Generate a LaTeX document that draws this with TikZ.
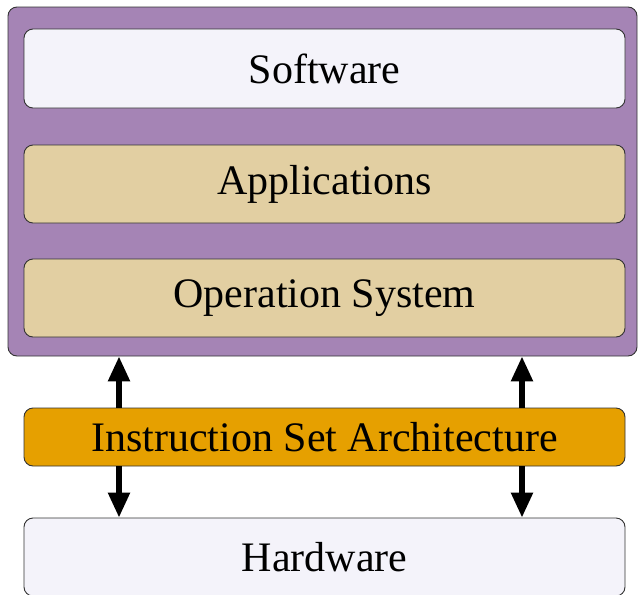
\documentclass[tikz,border=0pt]{standalone}
\usepackage{fontspec}
\setmainfont{Liberation Serif}
\usetikzlibrary{arrows.meta}
\definecolor{swpurple}{HTML}{A584B5}
\definecolor{swwhite}{HTML}{F4F3FA}
\definecolor{swtan}{HTML}{E2CFA2}
\definecolor{isaorange}{HTML}{E6A000}
\definecolor{edgegray}{HTML}{333333}
\tikzset{
	layer/.style={draw=edgegray, line width=0.9pt, rounded corners=9pt, minimum width=601pt, inner sep=0pt, font=\fontsize{42}{50}\selectfont},
	arr/.style={line width=5.5pt, -{Triangle[width=21pt,length=25pt]}}
}
\begin{document}
\begin{tikzpicture}[x=1pt, y=-1pt]
			\useasboundingbox (0,0) rectangle (638,595);
			
			\node[layer, fill=swpurple, minimum width=629pt, minimum height=349pt] (sw) at (322.5,181.5) {};
			\node[layer, fill=swwhite, minimum height=79pt] (soft) at (324.5,68.5) {Software};
			\node[layer, fill=swtan, minimum height=78pt] (app) at (324.5,184) {Applications};
			\node[layer, fill=swtan, minimum height=78pt] (os) at (324.5,298) {Operation System};
			\node[layer, fill=isaorange, minimum height=58pt] (isa) at (324.5,437) {Instruction Set Architecture};
			\node[layer, fill=swwhite, minimum height=78pt] (hw) at (324.5,557) {Hardware};
			
			\path 
				(119,0) coordinate (L)
				(522,0) coordinate (R)
			;
			
			\foreach \c in {L, R}{
				\draw[arr] (isa.north -| \c) -- (sw.south -| \c);
				\draw[arr] (isa.south -| \c) -- (hw.north -| \c);
			}
		\end{tikzpicture}
\end{document}
